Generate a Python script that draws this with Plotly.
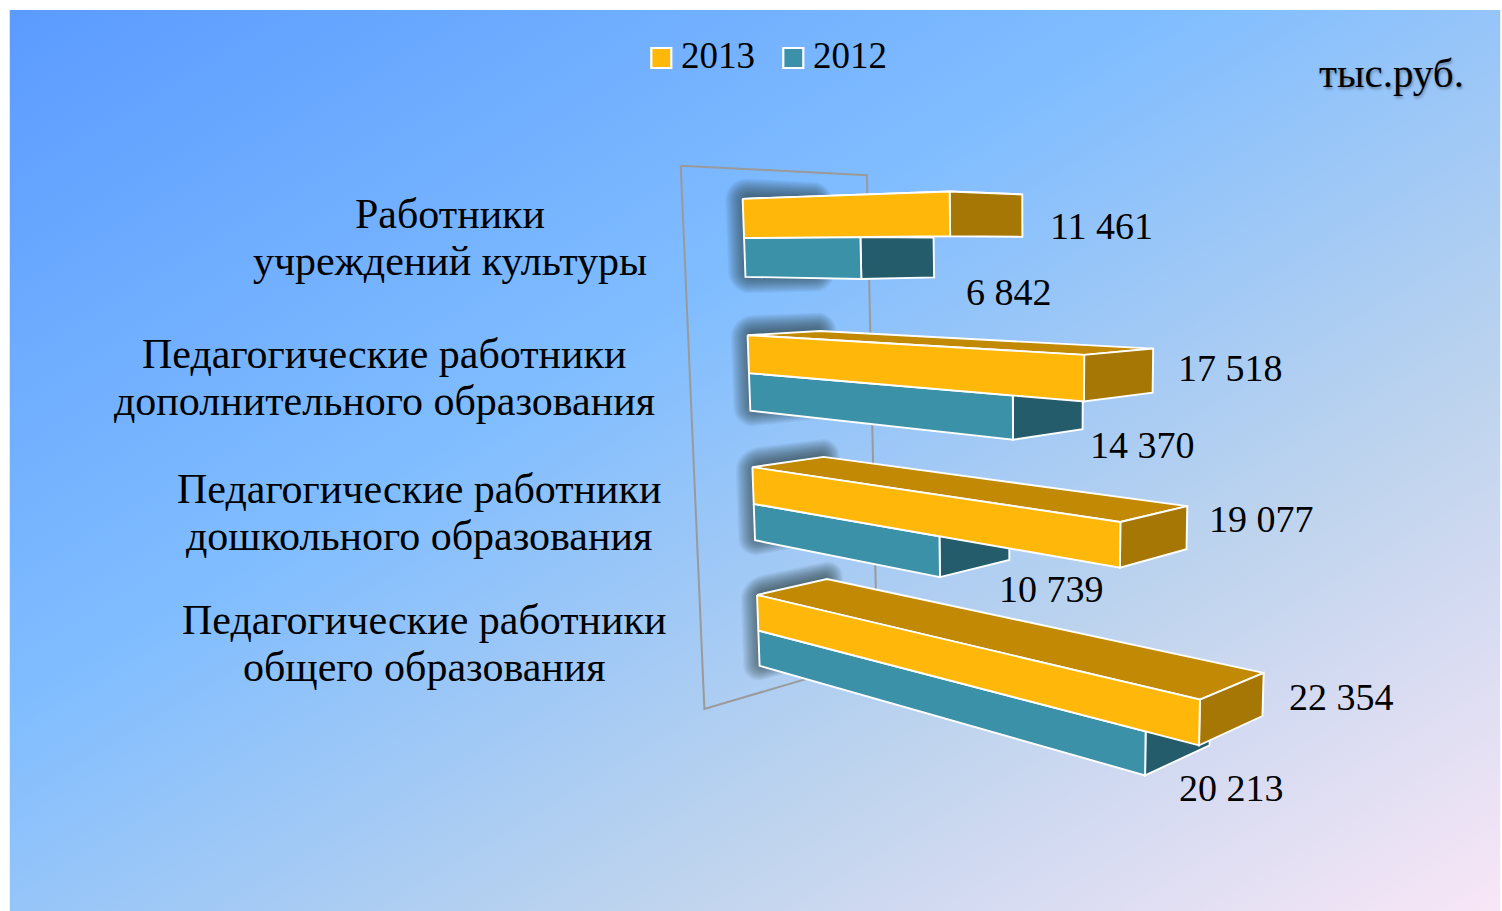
import base64
import numpy as np
import plotly.graph_objects as go

# ---------- data ----------
categories = [["Работники", "учреждений культуры"],
              ["Педагогические работники", "дополнительного образования"],
              ["Педагогические работники", "дошкольного образования"],
              ["Педагогические работники", "общего образования"]]
series_names = ["2013", "2012"]
values_2013 = [11461, 17518, 19077, 22354]
values_2012 = [6842, 14370, 10739, 20213]
unit_label = "тыс.руб."

# ---------- styling ----------
FONT = "Liberation Serif"
C13_FRONT, C13_TOP, C13_SIDE = "#FFB80A", "#C28A04", "#A67704"
C12_FRONT, C12_SIDE = "#3A91A8", "#255C6B"
CAT_STEP = 3.52          # distance between categories, in bar heights

# Camera of the original 3-D chart: (thousands, height, depth, 1) -> screen
CAMERA = np.array([
    [7.668949964202939, 4.934319410891749, 115.30321458601033, 742.6367348423046],
    [-2.741210236988304, 40.31880395272509, 12.514804487653524, 198.83382677417683],
    [-0.01094360009732398, 0.004717444567955198, 0.05065022469631608, 1.0]])


def project(points):
    pts = np.array(points, float)
    h = np.c_[pts, np.ones(len(pts))] @ CAMERA.T
    return h[:, 0] / h[:, 2], h[:, 1] / h[:, 2]


fig = go.Figure()


def face(points, color, name=None):
    x, y = project(points + points[:1])
    fig.add_trace(go.Scatter(x=x, y=y, mode="lines", fill="toself", fillcolor=color,
                             line=dict(color="white", width=1.9), showlegend=False,
                             hoverinfo="text", text=name))


# wall at the zero of the value axis
wy0, wy1, wd0, wd1 = -0.76, 13.32, -0.75, 1.75
wx, wyy = project([(0, wy0, wd0), (0, wy0, wd1), (0, wy1, wd1), (0, wy1, wd0), (0, wy0, wd0)])
fig.add_trace(go.Scatter(x=wx, y=wyy, mode="lines", line=dict(color="#9A9A9A", width=2),
                         showlegend=False, hoverinfo="skip"))


def rounded(t, b, l, r, ry, rd):
    """Rounded outline on the wall plane (height t..b, depth l..r)."""
    corners = [(t + ry, l + rd, np.pi, 1.5 * np.pi), (t + ry, r - rd, 1.5 * np.pi, 2 * np.pi),
               (b - ry, r - rd, 0, 0.5 * np.pi), (b - ry, l + rd, 0.5 * np.pi, np.pi)]
    out = []
    for cy, cd, a0, a1 in corners:
        for a in np.linspace(a0, a1, 7):
            out.append((0, cy + ry * np.sin(a), cd + rd * np.cos(a)))
    return out + out[:1]


# soft shadows behind the root of each bar: stacked translucent outlines
LAYERS = 18
for i in range(LAYERS):
    grow = 11 - i * 1.05           # screen pixels outside the core outline
    dy, dd = grow / 39, grow / 73
    xs, ys = [], []
    for c in range(len(categories)):
        base = c * CAT_STEP
        radius = max(3.0, 11 + grow)
        outline = rounded(base - 0.24 - dy, base + 2.16 + dy, -0.07 - dd, 1.09 + dd,
                          radius / 39, radius / 73)
        px, py = project(outline)
        xs += list(px) + [None]
        ys += list(py) + [None]
    fig.add_trace(go.Scatter(x=xs, y=ys, mode="lines", fill="toself", fillcolor="rgba(48,50,58,0.05)",
                             line=dict(width=0), showlegend=False, hoverinfo="skip"))

# bars
for c, (a13, a12) in enumerate(zip(values_2013, values_2012)):
    base = c * CAT_STEP
    v13, v12 = a13 / 1000, a12 / 1000
    # 2012, lower band
    y0, y1 = base + 1, base + 2
    face([(v12, y0, 0), (v12, y0, 1), (v12, y1, 1), (v12, y1, 0)], C12_SIDE, f"2012: {a12}")
    face([(0, y0, 0), (v12, y0, 0), (v12, y1, 0), (0, y1, 0)], C12_FRONT, f"2012: {a12}")
    # 2013, upper band
    y0, y1 = base, base + 1
    face([(0, y0, 0), (0, y0, 1), (v13, y0, 1), (v13, y0, 0)], C13_TOP, f"2013: {a13}")
    face([(v13, y0, 0), (v13, y0, 1), (v13, y1, 1), (v13, y1, 0)], C13_SIDE, f"2013: {a13}")
    face([(0, y0, 0), (v13, y0, 0), (v13, y1, 0), (0, y1, 0)], C13_FRONT, f"2013: {a13}")


def fmt(v):
    return f"{v:,}".replace(",", " ")


ann = []
# legend
legend_swatch_x = [661.3, 793.3]
legend_text_x = [681, 813]
for name, col, sx, tx in zip(series_names, (C13_FRONT, C12_FRONT), legend_swatch_x, legend_text_x):
    fig.add_trace(go.Scatter(x=[sx], y=[58], mode="markers", name=name, showlegend=False,
                             marker=dict(symbol="square", size=20, color=col,
                                         line=dict(color="white", width=2.2))))
    ann.append(dict(x=tx, y=55, text=name, showarrow=False, xanchor="left", xshift=-2,
                    font=dict(family=FONT, size=37, color="#000")))

# category labels, one annotation per line (the original leading is tight)
cat_pos = [(450, 214, 261), (384, 354, 401), (419, 489, 536), (424, 620, 667)]
for lines, (x, y1, y2) in zip(categories, cat_pos):
    for text, y in zip(lines, (y1, y2)):
        ann.append(dict(x=x, y=y, text=text, showarrow=False, align="center",
                        font=dict(family=FONT, size=42, color="#000")))

pos13 = [(1101, 226), (1230, 368), (1261, 519), (1341, 697)]
pos12 = [(1009, 292), (1142, 445), (1051, 589), (1231, 788)]
for vals, pos in ((values_2013, pos13), (values_2012, pos12)):
    for v, (x, y) in zip(vals, pos):
        ann.append(dict(x=x, y=y, text=fmt(v), showarrow=False,
                        font=dict(family=FONT, size=38, color="#000")))
ann.append(dict(x=1391, y=73, text=unit_label, showarrow=False,
                font=dict(family=FONT, size=41, color="#000",
                          shadow="1px 2px 3px rgba(0,0,0,0.35)")))

# page background: gradient panel with a thin white margin
svg = ('<svg xmlns="http://www.w3.org/2000/svg" width="1491" height="901">'
       '<defs><linearGradient id="g" gradientUnits="userSpaceOnUse" x1="0" y1="0" x2="797" y2="1319">'
       '<stop offset="0" stop-color="#5B9BFF"/><stop offset="0.39" stop-color="#80BDFF"/>'
       '<stop offset="0.70" stop-color="#BCD3EE"/><stop offset="1" stop-color="#F8E6F6"/>'
       '</linearGradient></defs><rect width="1491" height="901" fill="url(#g)"/></svg>')
uri = "data:image/svg+xml;base64," + base64.b64encode(svg.encode()).decode()

fig.update_layout(
    width=1502, height=911, autosize=False, margin=dict(l=0, r=0, t=0, b=0),
    paper_bgcolor="white", plot_bgcolor="rgba(0,0,0,0)", showlegend=False,
    xaxis=dict(range=[0, 1502], visible=False, fixedrange=True),
    yaxis=dict(range=[911, 0], visible=False, fixedrange=True),
    images=[dict(source=uri, xref="x", yref="y", x=9.5, y=10, sizex=1491, sizey=901,
                 sizing="stretch", xanchor="left", yanchor="top", layer="below")],
    annotations=ann,
)

fig.write_html("out.html", config=dict(displayModeBar=False),
               post_script="document.body.style.margin='0';document.documentElement.style.overflow='hidden';")
